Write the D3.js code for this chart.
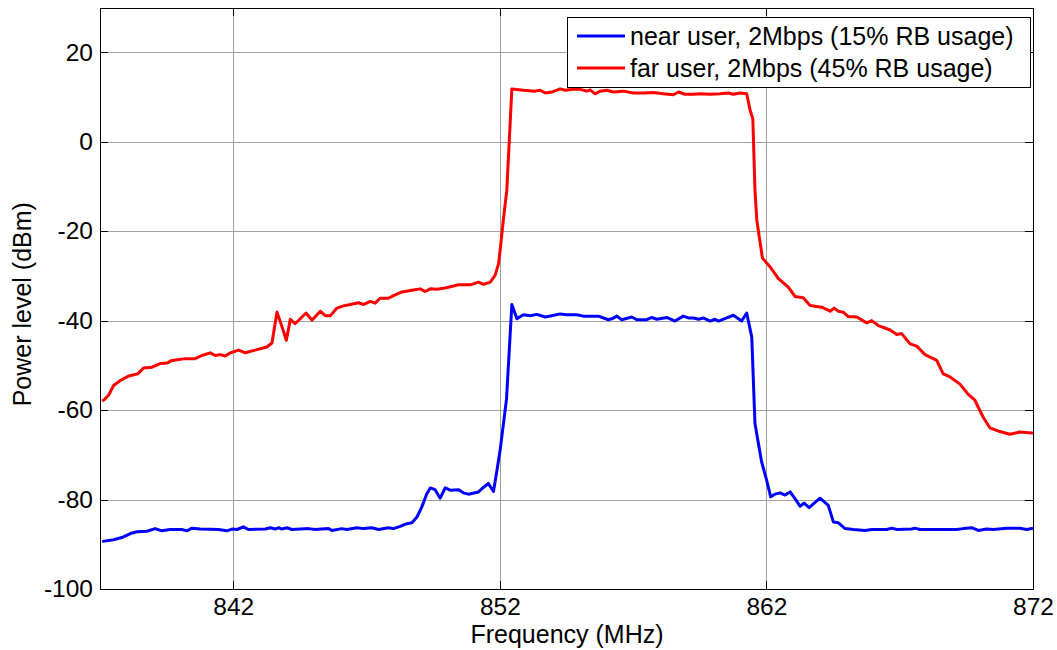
<!DOCTYPE html>
<html>
<head>
<meta charset="utf-8">
<script src="https://cdn.jsdelivr.net/npm/d3@7"></script>
<style>
  html, body { margin: 0; padding: 0; background: #fff; }
  svg { display: block; }
  text { font-family: "Liberation Sans", Arial, sans-serif; fill: #000; }
</style>
</head>
<body>
<svg id="chart" width="1057" height="650"></svg>
<script>
// Spectrum of two uplink users (MHz vs dBm)
const xTicks = [842, 852, 862, 872];
const yTicks = [-100, -80, -60, -40, -20, 0, 20];
const seriesNames = ["near user, 2Mbps (15% RB usage)", "far user, 2Mbps (45% RB usage)"];
const seriesColors = ["#0000ff", "#ff0000"];

const nearFreq = [
  837.08, 837.17, 837.51, 837.82, 838.14, 838.39, 838.76, 839.07, 839.32, 839.64,
  840.07, 840.26, 840.45, 840.76, 841.45, 841.76, 841.95, 842.14, 842.38, 842.57,
  843.20, 843.39, 843.57, 843.70, 843.82, 844.01, 844.20, 844.82, 845.07, 845.57,
  845.70, 846.07, 846.26, 846.64, 846.88, 847.20, 847.45, 847.82, 848.01, 848.26,
  848.51, 848.70, 848.89, 849.07, 849.26, 849.39, 849.57, 849.76, 849.95, 850.14,
  850.45, 850.63, 850.82, 851.20, 851.38, 851.57, 851.76, 851.89, 852.01, 852.25,
  852.45, 852.64, 852.88, 853.14, 853.39, 853.70, 853.95, 854.26, 854.51, 854.89,
  855.13, 855.70, 856.07, 856.20, 856.39, 856.57, 856.95, 857.14, 857.51, 857.70,
  857.89, 858.26, 858.57, 858.88, 859.07, 859.26, 859.45, 859.63, 859.89, 860.07,
  860.20, 860.51, 860.76, 861.07, 861.26, 861.45, 861.57, 861.70, 861.82, 862.01,
  862.16, 862.32, 862.51, 862.70, 862.89, 863.07, 863.26, 863.41, 863.60, 864.01,
  864.32, 864.51, 864.70, 864.95, 865.26, 865.70, 865.95, 866.51, 866.70, 866.89,
  867.45, 867.57, 867.76, 869.14, 869.38, 869.70, 869.95, 870.26, 870.51, 871.01,
  871.51, 871.76, 872.00
];
const nearLevel = [
  -89.4, -89.3, -89.0, -88.5, -87.6, -87.2, -87.1, -86.5, -87.0, -86.7,
  -86.7, -87.0, -86.4, -86.6, -86.7, -87.0, -86.6, -86.7, -86.1, -86.7,
  -86.6, -86.3, -86.6, -86.3, -86.6, -86.3, -86.7, -86.5, -86.7, -86.5,
  -86.9, -86.5, -86.7, -86.3, -86.5, -86.3, -86.7, -86.3, -86.5, -86.0,
  -85.4, -85.2, -83.9, -81.7, -78.7, -77.4, -77.8, -79.7, -77.4, -77.9,
  -77.8, -78.5, -78.8, -78.3, -77.3, -76.4, -78.2, -73.5, -69.0, -57.5,
  -36.4, -39.6, -38.7, -38.9, -38.6, -39.2, -38.9, -38.5, -38.7, -38.7,
  -39.0, -39.0, -39.8, -39.6, -39.0, -39.8, -39.2, -39.8, -39.8, -39.3,
  -39.7, -39.3, -40.1, -39.0, -39.4, -39.4, -39.7, -39.4, -40.1, -39.7,
  -40.1, -39.4, -38.8, -40.1, -38.3, -43.7, -63.0, -67.5, -71.6, -75.7,
  -79.4, -78.8, -78.5, -79.0, -78.3, -79.8, -81.5, -80.8, -81.8, -79.7,
  -81.3, -85.0, -85.2, -86.5, -86.7, -86.9, -86.7, -86.7, -86.4, -86.7,
  -86.6, -86.4, -86.7, -86.7, -86.5, -86.3, -86.9, -86.6, -86.7, -86.4,
  -86.4, -86.7, -86.4
];

const farFreq = [
  837.08, 837.17, 837.32, 837.51, 837.76, 838.07, 838.42, 838.63, 838.95, 839.26,
  839.51, 839.70, 840.20, 840.57, 840.82, 841.14, 841.32, 841.51, 841.70, 841.89,
  842.20, 842.45, 842.82, 843.26, 843.45, 843.64, 843.83, 843.99, 844.14, 844.32,
  844.73, 844.95, 845.26, 845.45, 845.64, 845.89, 846.13, 846.39, 846.70, 846.88,
  847.14, 847.32, 847.51, 847.82, 848.01, 848.33, 848.70, 849.01, 849.20, 849.39,
  849.64, 849.95, 850.45, 850.89, 851.20, 851.38, 851.64, 851.82, 851.95, 852.01,
  852.13, 852.26, 852.45, 852.88, 853.32, 853.51, 853.70, 853.95, 854.26, 854.45,
  854.76, 855.01, 855.26, 855.39, 855.57, 855.76, 856.01, 856.26, 856.63, 857.01,
  857.38, 857.76, 858.13, 858.51, 858.70, 858.95, 859.26, 859.51, 859.89, 860.26,
  860.57, 860.76, 861.01, 861.26, 861.39, 861.49, 861.57, 861.64, 861.85, 862.14,
  862.45, 862.82, 863.07, 863.38, 863.64, 864.07, 864.39, 864.54, 864.70, 864.88,
  865.07, 865.39, 865.76, 865.95, 866.20, 866.64, 866.89, 867.07, 867.39, 867.64,
  867.95, 868.39, 868.63, 868.89, 869.26, 869.57, 869.82, 870.13, 870.39, 870.76,
  871.13, 871.51, 871.95, 872.00
];
const farLevel = [
  -58.0, -57.6, -56.7, -54.5, -53.4, -52.4, -51.9, -50.6, -50.4, -49.6,
  -49.5, -48.9, -48.5, -48.5, -47.8, -47.2, -47.8, -47.6, -47.9, -47.2,
  -46.6, -47.2, -46.6, -45.9, -45.0, -38.1, -41.4, -44.4, -39.7, -40.7,
  -38.3, -39.9, -37.9, -38.9, -38.9, -37.2, -36.7, -36.4, -36.0, -36.4,
  -35.7, -36.1, -35.0, -35.0, -34.4, -33.6, -33.2, -32.9, -33.5, -32.9,
  -33.0, -32.7, -32.0, -32.0, -31.4, -31.9, -31.4, -29.9, -27.3, -24.3,
  -17.5, -10.9, 11.8, 11.5, 11.3, 11.5, 10.9, 11.1, 11.8, 11.5,
  11.7, 11.7, 11.3, 11.6, 10.7, 11.3, 11.5, 11.1, 11.3, 10.9,
  10.9, 11.0, 10.7, 10.5, 11.1, 10.6, 10.6, 10.7, 10.6, 10.7,
  10.9, 10.6, 10.9, 10.7, 7.0, 5.1, -10.9, -17.6, -26.0, -28.0,
  -30.6, -32.5, -34.6, -34.9, -36.6, -37.0, -37.9, -37.2, -37.9, -38.1,
  -39.1, -39.2, -40.5, -40.0, -41.1, -42.1, -43.1, -42.9, -45.2, -45.7,
  -47.6, -48.9, -51.9, -52.6, -54.2, -56.5, -57.8, -61.6, -64.0, -64.8,
  -65.4, -64.9, -65.1, -65.2
];

const plotLeft = 100, plotRight = 1033, plotTop = 7.5, plotBottom = 589;
const svg = d3.select("#chart");

const x = d3.scaleLinear().domain([837, 872]).range([plotLeft, plotRight]);
const y = d3.scaleLinear().domain([-100, 30]).range([plotBottom, plotTop]);
const plainNumber = d => String(d);   // ASCII hyphen for negatives

// grid
const grid = svg.append("g").attr("shape-rendering", "crispEdges");
grid.selectAll("line.vx").data(xTicks).join("line")
  .attr("x1", d => Math.round(x(d)) + 0.5).attr("x2", d => Math.round(x(d)) + 0.5)
  .attr("y1", plotTop).attr("y2", plotBottom)
  .attr("stroke", "#a0a0a0").attr("stroke-width", 1);
grid.selectAll("line.hy").data(yTicks).join("line")
  .attr("y1", d => Math.round(y(d)) + 0.5).attr("y2", d => Math.round(y(d)) + 0.5)
  .attr("x1", plotLeft).attr("x2", plotRight)
  .attr("stroke", "#a0a0a0").attr("stroke-width", 1);

// data lines
const line = d3.line().x(d => x(d[0])).y(d => y(d[1]));
svg.append("clipPath").attr("id", "plotclip")
  .append("rect").attr("x", plotLeft).attr("y", plotTop)
  .attr("width", plotRight - plotLeft).attr("height", plotBottom - plotTop);

const series = [
  { f: nearFreq, v: nearLevel, color: seriesColors[0] },
  { f: farFreq, v: farLevel, color: seriesColors[1] }
];
const plot = svg.append("g").attr("clip-path", "url(#plotclip)");
series.forEach(s => {
  plot.append("path")
    .datum(s.f.map((f, i) => [f, s.v[i]]))
    .attr("d", line)
    .attr("fill", "none")
    .attr("stroke", s.color)
    .attr("stroke-width", 3)
    .attr("stroke-linejoin", "round");
});

// axes (ticks inward on all four sides)
const tickLen = 8;
const axes = svg.append("g").attr("shape-rendering", "crispEdges");
axes.append("g").attr("transform", `translate(0,${plotBottom})`)
  .call(d3.axisBottom(x).tickValues(xTicks).tickFormat(plainNumber)
    .tickSize(-tickLen).tickPadding(9).tickSizeOuter(0));
axes.append("g").attr("transform", `translate(0,${plotTop})`)
  .call(d3.axisTop(x).tickValues(xTicks).tickSize(-tickLen).tickFormat("").tickSizeOuter(0));
axes.append("g").attr("transform", `translate(${plotLeft},0)`)
  .call(d3.axisLeft(y).tickValues(yTicks).tickFormat(plainNumber)
    .tickSize(-tickLen).tickPadding(7).tickSizeOuter(0));
axes.append("g").attr("transform", `translate(${plotRight},0)`)
  .call(d3.axisRight(y).tickValues(yTicks).tickSize(-tickLen).tickFormat("").tickSizeOuter(0));
axes.selectAll(".domain").remove();
axes.selectAll("line").attr("stroke", "#000");
axes.selectAll("text")
  .style("font-family", '"Liberation Sans", Arial, sans-serif')
  .style("font-size", "24.5px").attr("fill", "#000");

// frame
svg.append("rect")
  .attr("x", plotLeft + 0.5).attr("y", Math.round(plotTop) + 0.5)
  .attr("width", plotRight - plotLeft).attr("height", plotBottom - Math.round(plotTop))
  .attr("fill", "none").attr("stroke", "#000").attr("stroke-width", 1)
  .attr("shape-rendering", "crispEdges");

// axis titles
svg.append("text")
  .attr("x", (plotLeft + plotRight) / 2 + 0.5).attr("y", 643)
  .attr("text-anchor", "middle")
  .style("font-size", "25px")
  .text("Frequency (MHz)");
svg.append("text")
  .attr("transform", `translate(31,${(plotTop + plotBottom) / 2 + 6}) rotate(-90)`)
  .attr("text-anchor", "middle")
  .style("font-size", "25px")
  .text("Power level (dBm)");

// legend
const lg = svg.append("g");
lg.append("rect")
  .attr("x", 567.5).attr("y", 17.5).attr("width", 463).attr("height", 70)
  .attr("fill", "#fff").attr("stroke", "#000").attr("stroke-width", 1)
  .attr("shape-rendering", "crispEdges");
seriesNames.forEach((name, i) => {
  const yy = 36 + i * 32;
  lg.append("line")
    .attr("x1", 577).attr("x2", 625).attr("y1", yy).attr("y2", yy)
    .attr("stroke", seriesColors[i]).attr("stroke-width", 3);
  lg.append("text")
    .attr("x", 630).attr("y", yy + 9)
    .style("font-size", "25px")
    .text(name);
});
</script>
</body>
</html>
